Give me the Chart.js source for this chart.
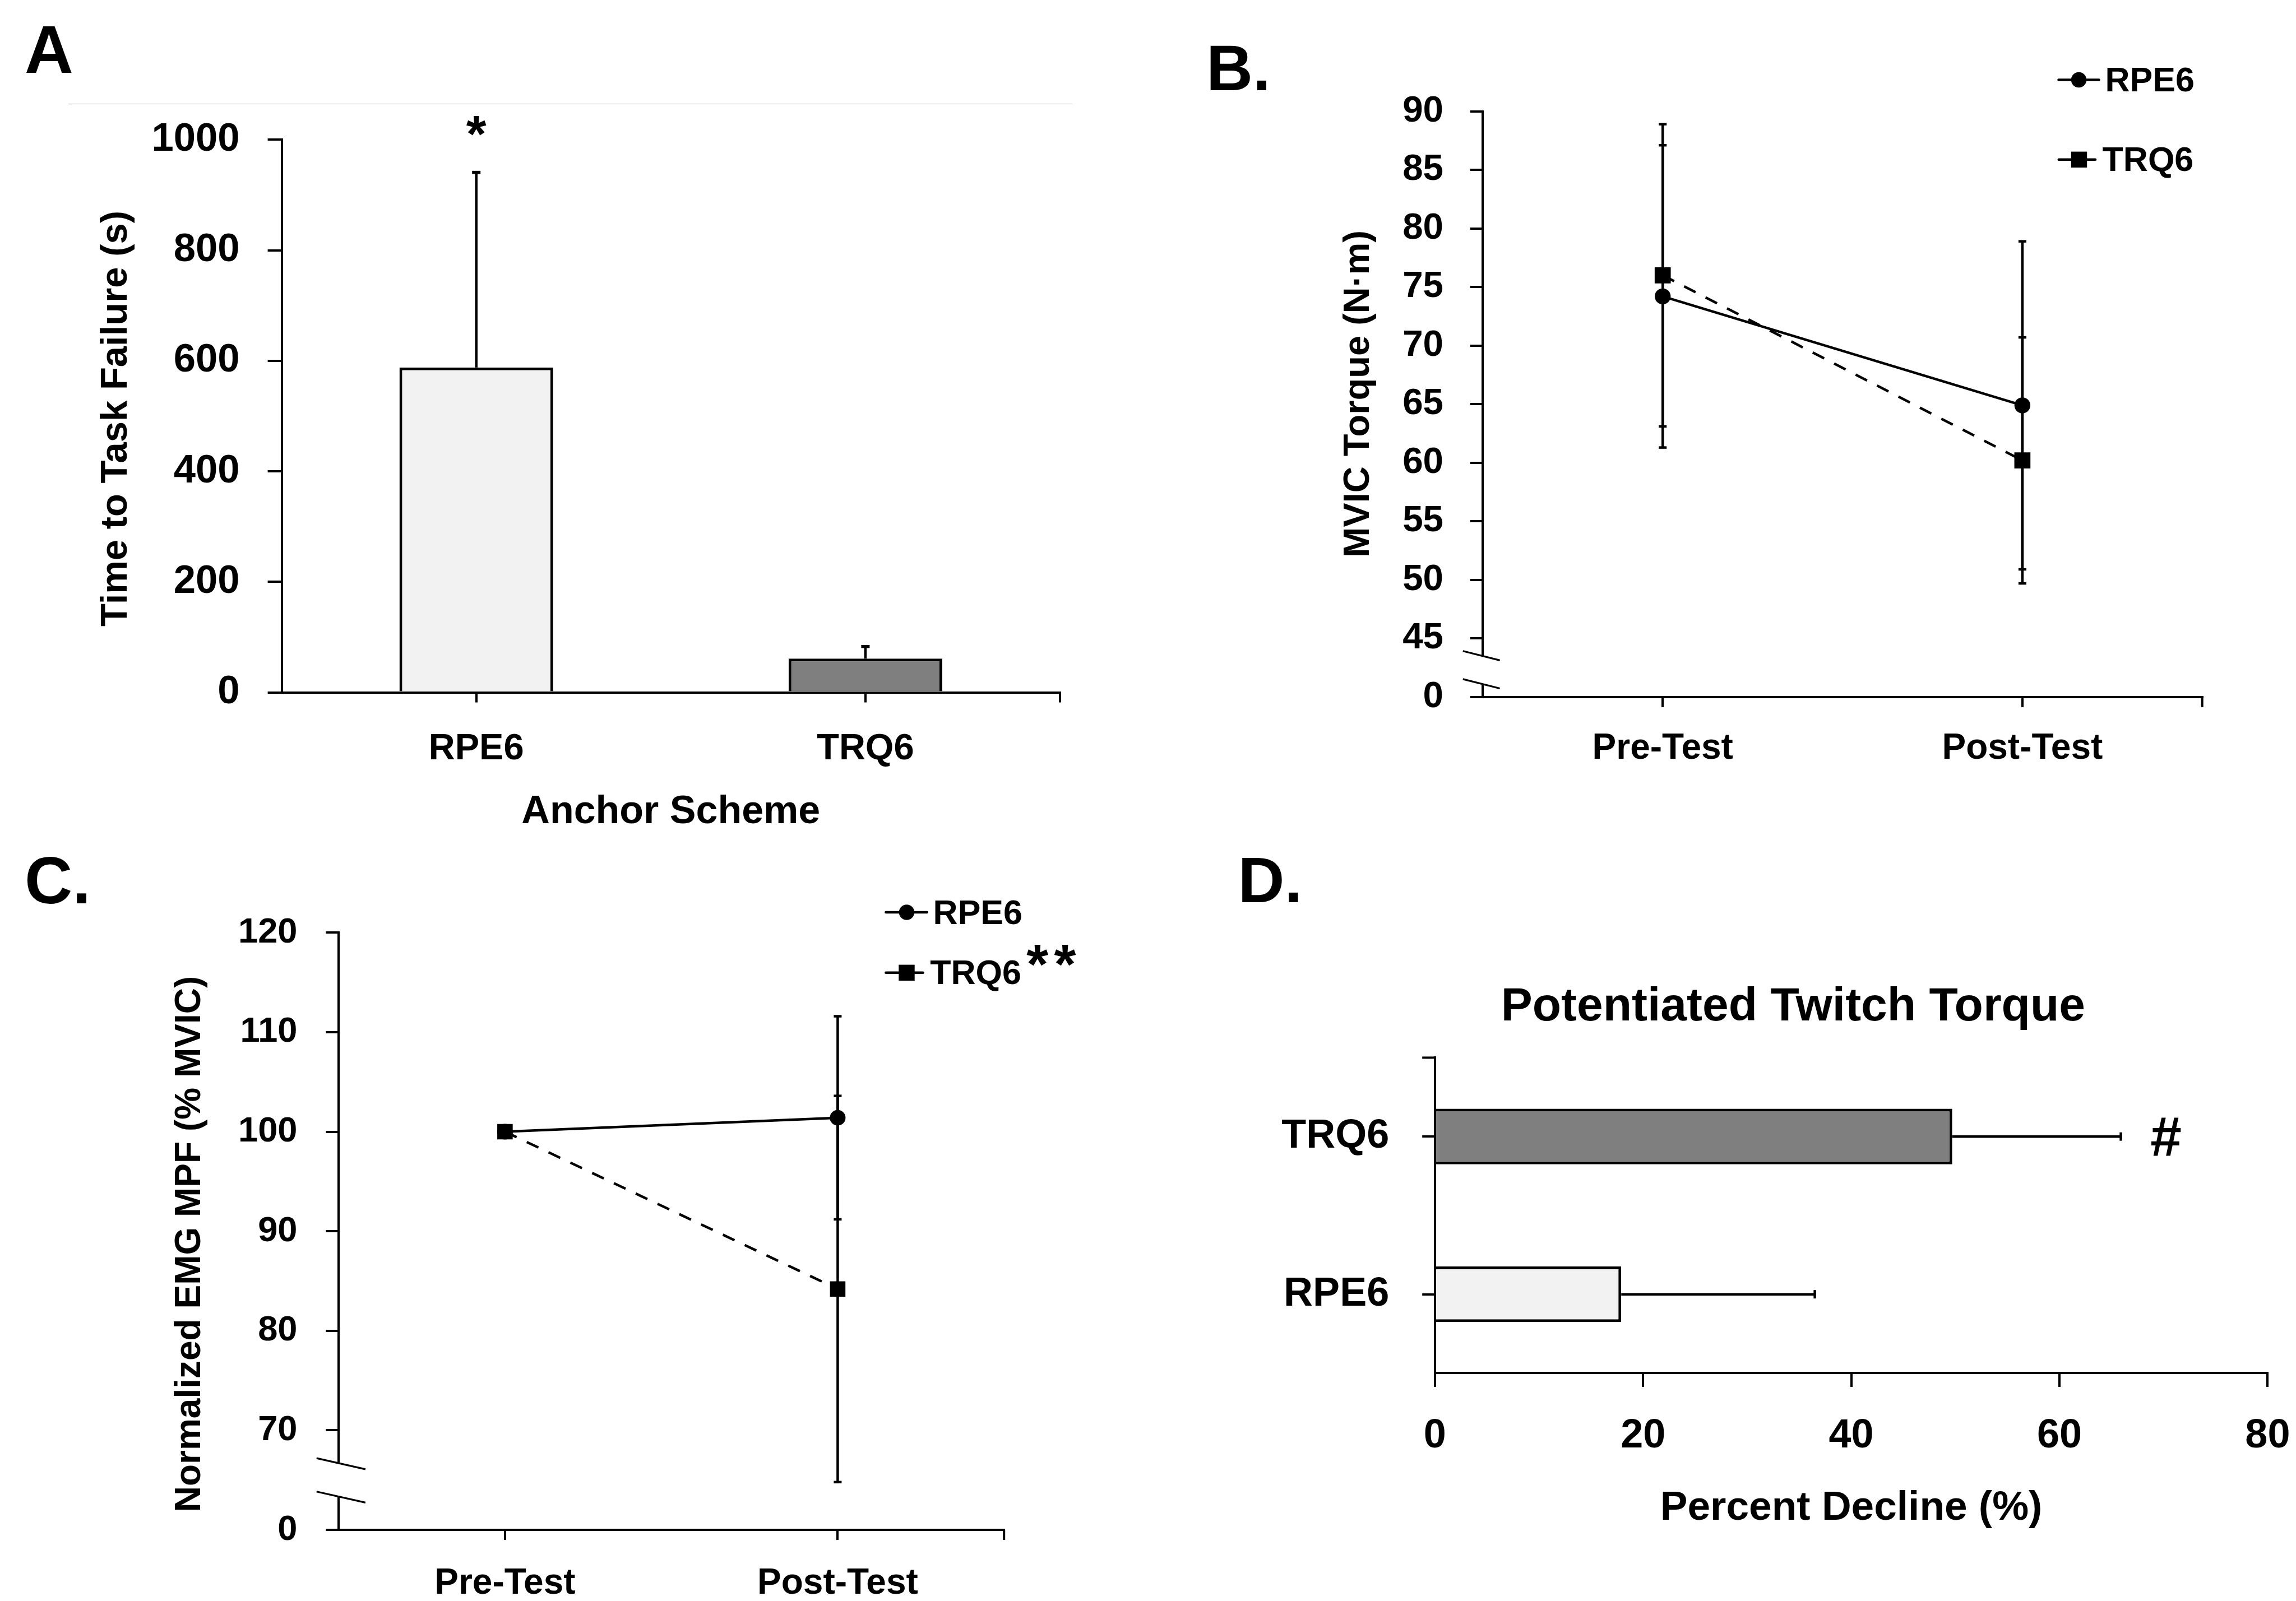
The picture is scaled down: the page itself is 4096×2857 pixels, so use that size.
<!DOCTYPE html>
<html>
<head>
<meta charset="utf-8">
<script src="https://cdn.jsdelivr.net/npm/chart.js@4.4.1/dist/chart.umd.min.js"></script>
<style>
  html, body { margin: 0; padding: 0; background: #fff; }
  #wrap { position: relative; width: 4096px; height: 2857px; overflow: hidden; background: #fff; }
  canvas { position: absolute; left: 0; top: 0; }
</style>
</head>
<body>
<div id="wrap">
  <canvas id="chartA" width="4096" height="2857"></canvas>
  <canvas id="chartB" width="4096" height="2857"></canvas>
  <canvas id="chartC" width="4096" height="2857"></canvas>
  <canvas id="chartD" width="4300" height="2857"></canvas>
</div>
<script>
// A: time to task failure
const anchorLabels = ['RPE6', 'TRQ6'];
const ttfMean = [588, 61];
const ttfSD = [353, 22];

// B: MVIC torque
const testLabels = ['Pre-Test', 'Post-Test'];
const mvicRpe6 = [74.2, 64.9];
const mvicRpe6SD = [12.9, 14.0];
const mvicTrq6 = [76.0, 60.2];
const mvicTrq6SD = [12.9, 10.5];

// C: normalized EMG MPF
const mpfRpe6 = [100, 101.4];
const mpfRpe6SD = [0, 10.2];
const mpfTrq6 = [100, 84.2];
const mpfTrq6SD = [0, 19.4];

// D: potentiated twitch torque decline
const twitchLabels = ['TRQ6', 'RPE6'];
const twitchMean = [49.7, 17.9];
const twitchSD = [16.2, 18.6];

const FONT = "'Liberation Sans', Arial, sans-serif";
Chart.defaults.font.family = FONT;
Chart.defaults.font.weight = 'bold';
Chart.defaults.color = '#000';

const PAGE_H = 2857;
const AX = 4;     // axis line width
const EB = 4.5;   // error bar width
const LW = 4.5;   // data line width

function fixSize(size) {
  return function (scale) {
    if (scale.isHorizontal()) scale.height = size; else scale.width = size;
  };
}
// layout that puts the chart area at (l,t)-(r,b); the axes get the rest
function frame(l, t, r, b, canvasW) {
  return {
    padding: { left: 10, top: t, right: (canvasW || 4096) - r, bottom: 10 },
    w: l - 10,
    h: PAGE_H - b - 10
  };
}
function baseScale(tickLen, fontSize, pad) {
  return {
    border: { color: '#000', width: AX },
    grid: { drawOnChartArea: false, color: '#000', lineWidth: AX, tickLength: tickLen },
    ticks: { color: '#000', font: { size: fontSize, weight: 'bold' }, padding: pad, maxRotation: 0, autoSkip: false }
  };
}
function linScale(tickLen, fontSize, pad, min, max, step, fmt) {
  const s = baseScale(tickLen, fontSize, pad);
  s.type = 'linear'; s.min = min; s.max = max;
  s.ticks.stepSize = step;
  s.ticks.callback = fmt || (v => String(v));
  return s;
}
function catScale(tickLen, fontSize, pad) {
  const s = baseScale(tickLen, fontSize, pad);
  s.type = 'category'; s.offset = true; s.grid.offset = false;
  return s;
}

function seg(ctx, x1, y1, x2, y2, w) {
  ctx.save();
  ctx.strokeStyle = '#000';
  ctx.lineWidth = w;
  ctx.beginPath(); ctx.moveTo(x1, y1); ctx.lineTo(x2, y2); ctx.stroke();
  ctx.restore();
}
function label(ctx, s, x, y, size, align) {
  ctx.save();
  ctx.font = 'bold ' + size + 'px ' + FONT;
  ctx.fillStyle = '#000';
  ctx.textAlign = align || 'left';
  ctx.textBaseline = 'alphabetic';
  ctx.fillText(s, x, y);
  ctx.restore();
}
function sideTitle(ctx, s, cx, cy, size) {
  ctx.save();
  ctx.translate(cx, cy);
  ctx.rotate(-Math.PI / 2);
  ctx.font = 'bold ' + size + 'px ' + FONT;
  ctx.fillStyle = '#000';
  ctx.textAlign = 'center';
  ctx.textBaseline = 'middle';
  ctx.fillText(s, 0, 0);
  ctx.restore();
}
function axisBreak(ctx, x, ys, left, right, slope) {
  ctx.save();
  ctx.fillStyle = '#fff';
  ctx.fillRect(x - 6, ys[0], 12, ys[1] - ys[0]);
  ctx.restore();
  ys.forEach(y => seg(ctx, x - left, y - left * slope, x + right, y + right * slope, 3.2));
}
function legendRow(ctx, square, x1, x2, cx, y, text, tx, ty) {
  ctx.save();
  ctx.strokeStyle = '#000';
  ctx.lineWidth = 4.5;
  ctx.lineCap = 'round';
  ctx.beginPath(); ctx.moveTo(x1, y); ctx.lineTo(x2, y); ctx.stroke();
  ctx.fillStyle = '#000';
  if (square) {
    ctx.fillRect(cx - 14.2, y - 14.2, 28.4, 28.4);
  } else {
    ctx.beginPath(); ctx.arc(cx, y, 13.7, 0, Math.PI * 2); ctx.fill();
  }
  ctx.restore();
  label(ctx, text, tx, ty, 61);
}
// symmetric error bars for a line dataset
function lineErrors(chart, dsIndex, means, sds) {
  const ctx = chart.ctx, y = chart.scales.y;
  chart.getDatasetMeta(dsIndex).data.forEach((pt, i) => {
    if (!sds[i]) return;
    const hi = y.getPixelForValue(means[i] + sds[i]);
    const lo = y.getPixelForValue(means[i] - sds[i]);
    seg(ctx, pt.x, hi, pt.x, lo, EB);
    seg(ctx, pt.x - 7, hi, pt.x + 7, hi, EB);
    seg(ctx, pt.x - 7, lo, pt.x + 7, lo, EB);
  });
}

const common = {
  responsive: false,
  devicePixelRatio: 1,
  animation: false,
  events: [],
};

// ---------- A ----------
const fA = frame(502.6, 249.4, 1891, 1235.5);
const aX = catScale(18, 65, 45);
aX.afterFit = fixSize(fA.h);
const aY = linScale(25, 70.6, 50, 0, 1000, 200);
aY.afterFit = fixSize(fA.w);
new Chart(document.getElementById('chartA'), {
  type: 'bar',
  data: {
    labels: anchorLabels,
    datasets: [{
      data: ttfMean,
      backgroundColor: ['#f2f2f2', '#7f7f7f'],
      borderColor: '#000',
      borderWidth: 5,
      barPercentage: 0.395,
      categoryPercentage: 1
    }]
  },
  options: Object.assign({}, common, {
    layout: { padding: fA.padding },
    plugins: { legend: { display: false }, tooltip: { enabled: false } },
    scales: { x: aX, y: aY }
  }),
  plugins: [{
    id: 'panelA',
    afterDatasetsDraw(chart) {
      const ctx = chart.ctx, y = chart.scales.y;
      chart.getDatasetMeta(0).data.forEach((bar, i) => {
        const top = y.getPixelForValue(ttfMean[i] + ttfSD[i]);
        seg(ctx, bar.x, bar.y, bar.x, top, EB);
        seg(ctx, bar.x - 7.5, top, bar.x + 7.5, top, 5.5);
      });
    },
    afterDraw(chart) {
      const ctx = chart.ctx, a = chart.chartArea;
      seg(ctx, a.right, a.bottom, a.right, a.bottom + 18, AX);
      ctx.save();
      ctx.strokeStyle = '#d9d9d9'; ctx.lineWidth = 1.5;
      ctx.beginPath(); ctx.moveTo(122, 185.6); ctx.lineTo(1913, 185.6); ctx.stroke();
      ctx.restore();
      label(ctx, 'A', 44, 130.4, 120);
      const x0 = chart.getDatasetMeta(0).data[0].x;
      label(ctx, '*', x0, 271, 92, 'center');
      sideTitle(ctx, 'Time to Task Failure (s)', 208, 747, 67);
      label(ctx, 'Anchor Scheme', (a.left + a.right) / 2, 1469, 70, 'center');
    }
  }]
});

// ---------- B ----------
const fB = frame(2645.4, 198.6, 3928.7, 1243.9);
const bX = catScale(18, 64, 36.5);
bX.afterFit = fixSize(fB.h);
const bY = linScale(22.7, 65.5, 47.7, 40, 90, 5, v => (v === 40 ? '0' : String(v)));
bY.afterFit = fixSize(fB.w);
new Chart(document.getElementById('chartB'), {
  type: 'line',
  data: {
    labels: testLabels,
    datasets: [{
      label: 'RPE6', data: mvicRpe6, order: 1,
      borderColor: '#000', borderWidth: LW,
      pointStyle: 'circle', pointRadius: 14.2, pointBackgroundColor: '#000', pointBorderColor: '#000', pointBorderWidth: 0
    }, {
      label: 'TRQ6', data: mvicTrq6, order: 0,
      borderColor: '#000', borderWidth: LW, borderDash: [23, 20],
      pointStyle: 'rect', pointRadius: 20.3, pointBackgroundColor: '#000', pointBorderColor: '#000', pointBorderWidth: 0
    }]
  },
  options: Object.assign({}, common, {
    layout: { padding: fB.padding },
    plugins: { legend: { display: false }, tooltip: { enabled: false } },
    scales: { x: bX, y: bY }
  }),
  plugins: [{
    id: 'panelB',
    afterDatasetsDraw(chart) {
      lineErrors(chart, 0, mvicRpe6, mvicRpe6SD);
      lineErrors(chart, 1, mvicTrq6, mvicTrq6SD);
    },
    afterDraw(chart) {
      const ctx = chart.ctx, a = chart.chartArea, y = chart.scales.y;
      seg(ctx, a.right, a.bottom, a.right, a.bottom + 18, AX);
      axisBreak(ctx, a.left, [y.getPixelForValue(43.5), y.getPixelForValue(41.1)], 35.6, 30.3, 0.253);
      label(ctx, 'B.', 2152, 160.7, 115);
      sideTitle(ctx, 'MVIC Torque (N\u00B7m)', 2424, 703, 65);
      legendRow(ctx, false, 3672.5, 3744.5, 3708.5, 142.5, 'RPE6', 3755.5, 163);
      legendRow(ctx, true, 3672.8, 3738, 3709, 284.8, 'TRQ6', 3750.6, 304.5);
    }
  }]
});

// ---------- C ----------
const fC = frame(604.1, 1664.3, 1791.2, 2730.1);
const cX = catScale(18, 64, 39.5);
cX.afterFit = fixSize(fC.h);
const cY = linScale(22.6, 63.2, 51, 60, 120, 10, v => (v === 60 ? '0' : String(v)));
cY.afterFit = fixSize(fC.w);
new Chart(document.getElementById('chartC'), {
  type: 'line',
  data: {
    labels: testLabels,
    datasets: [{
      label: 'RPE6', data: mpfRpe6, order: 1,
      borderColor: '#000', borderWidth: LW,
      pointStyle: 'circle', pointRadius: 14, pointBackgroundColor: '#000', pointBorderColor: '#000', pointBorderWidth: 0
    }, {
      label: 'TRQ6', data: mpfTrq6, order: 0,
      borderColor: '#000', borderWidth: LW, borderDash: [23, 20],
      pointStyle: 'rect', pointRadius: 19.5, pointBackgroundColor: '#000', pointBorderColor: '#000', pointBorderWidth: 0
    }]
  },
  options: Object.assign({}, common, {
    layout: { padding: fC.padding },
    plugins: { legend: { display: false }, tooltip: { enabled: false } },
    scales: { x: cX, y: cY }
  }),
  plugins: [{
    id: 'panelC',
    afterDatasetsDraw(chart) {
      lineErrors(chart, 0, mpfRpe6, mpfRpe6SD);
      lineErrors(chart, 1, mpfTrq6, mpfTrq6SD);
    },
    afterDraw(chart) {
      const ctx = chart.ctx, a = chart.chartArea, y = chart.scales.y;
      seg(ctx, a.right, a.bottom, a.right, a.bottom + 18, AX);
      axisBreak(ctx, a.left, [y.getPixelForValue(66.7), y.getPixelForValue(63.35)], 39.4, 47.8, 0.226);
      label(ctx, 'C.', 44, 1612, 118);
      sideTitle(ctx, 'Normalized EMG MPF (% MVIC)', 339.4, 2220, 64);
      legendRow(ctx, false, 1580.4, 1653.8, 1617.5, 1628, 'RPE6', 1664.6, 1648.7);
      legendRow(ctx, true, 1580.4, 1646.4, 1617.5, 1735.8, 'TRQ6', 1659.3, 1756);
      label(ctx, '*', 1850.6, 1754.6, 100, 'center');
      label(ctx, '*', 1900, 1754.6, 100, 'center');
    }
  }]
});

// ---------- D ----------
// canvas is wider than the page so the "80" label does not squeeze the plot
const fD = frame(2559.8, 1887.4, 4045.4, 2450.4, 4300);
const dY = catScale(22.6, 72, 59);
dY.position = 'left';
dY.afterFit = fixSize(fD.w);
const dX = linScale(24.6, 72, 44.8, 0, 80, 20);
dX.position = 'bottom';
dX.afterFit = fixSize(fD.h);
new Chart(document.getElementById('chartD'), {
  type: 'bar',
  data: {
    labels: twitchLabels,
    datasets: [{
      data: twitchMean,
      backgroundColor: ['#7f7f7f', '#f2f2f2'],
      borderColor: '#000',
      borderWidth: 5,
      barPercentage: 0.353,
      categoryPercentage: 1
    }]
  },
  options: Object.assign({}, common, {
    indexAxis: 'y',
    layout: { padding: fD.padding },
    plugins: { legend: { display: false }, tooltip: { enabled: false } },
    scales: { x: dX, y: dY }
  }),
  plugins: [{
    id: 'panelD',
    afterDatasetsDraw(chart) {
      const ctx = chart.ctx, x = chart.scales.x;
      chart.getDatasetMeta(0).data.forEach((bar, i) => {
        const end = x.getPixelForValue(twitchMean[i] + twitchSD[i]);
        seg(ctx, bar.x, bar.y, end, bar.y, EB);
        seg(ctx, end, bar.y - 7.5, end, bar.y + 7.5, EB);
      });
    },
    afterDraw(chart) {
      const ctx = chart.ctx, a = chart.chartArea;
      seg(ctx, a.left - 22.6, a.top, a.left, a.top, AX);
      label(ctx, 'D.', 2208.5, 1610, 115);
      label(ctx, 'Potentiated Twitch Torque', 3198.8, 1821, 84, 'center');
      label(ctx, 'Percent Decline (%)', (a.left + a.right) / 2, 2712, 73, 'center');
      const y0 = chart.getDatasetMeta(0).data[0].y;
      label(ctx, '#', 3864, y0 + 35, 100, 'center');
    }
  }]
});
</script>
</body>
</html>
